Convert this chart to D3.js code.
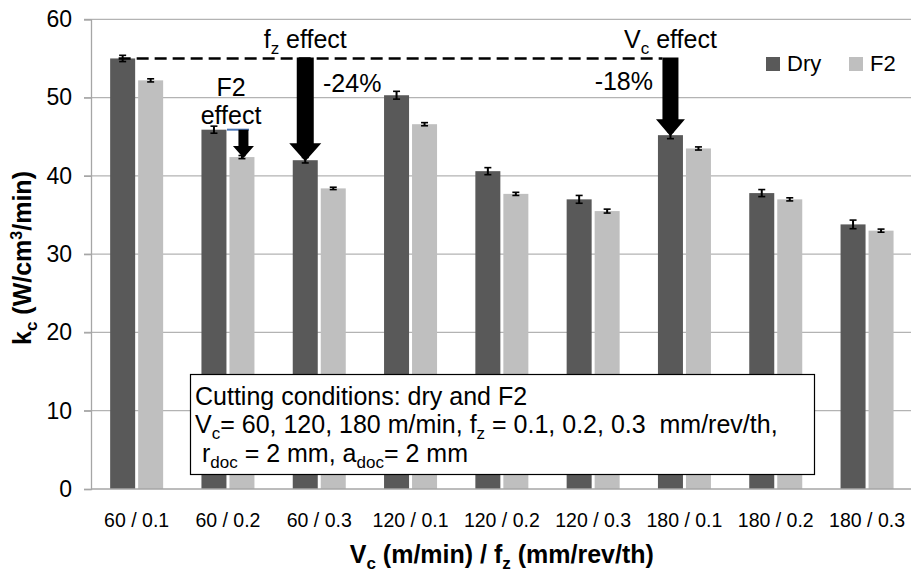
<!DOCTYPE html>
<html>
<head>
<meta charset="utf-8">
<script src="https://cdn.jsdelivr.net/npm/d3@7"></script>
<style>
  body { margin: 0; background: #fff; }
  svg { font-family: "Liberation Sans", Arial, sans-serif; display: block; }
</style>
</head>
<body>
<div id="chart"></div>
<script>
// data
const categories = ['60 / 0.1', '60 / 0.2', '60 / 0.3', '120 / 0.1', '120 / 0.2', '120 / 0.3', '180 / 0.1', '180 / 0.2', '180 / 0.3'];
const seriesNames = ['Dry', 'F2'];
const dryValues = [55.0, 45.9, 42.0, 50.3, 40.6, 37.0, 45.2, 37.8, 33.8];
const f2Values = [52.2, 42.4, 38.4, 46.6, 37.7, 35.5, 43.5, 37.0, 33.0];
const dryErrors = [0.4, 0.45, 0.35, 0.5, 0.45, 0.5, 0.45, 0.45, 0.55];
const f2Errors = [0.2, 0.2, 0.15, 0.2, 0.2, 0.25, 0.2, 0.2, 0.2];
const yTicks = [0, 10, 20, 30, 40, 50, 60];
const colors = { Dry: '#595959', F2: '#bfbfbf' };

const width = 911, height = 574;
const margin = { left: 91, top: 19.3, bottom: 85 };
const plotRight = 912.7;

let svg = d3.select('#chart').append('svg')
    .attr('width', width)
    .attr('height', height);

let x0 = d3.scaleBand()
    .domain(categories)
    .range([margin.left, plotRight]);

let x1 = d3.scaleBand()
    .domain(seriesNames)
    .range([19.15, 72.15])
    .paddingInner(0.107);

let y = d3.scaleLinear()
    .domain([0, 60])
    .range([height - margin.bottom, margin.top]);

// gridlines
svg.append('g')
    .selectAll('line')
    .data(yTicks.filter((d) => d > 0))
    .enter()
    .append('line')
    .attr('x1', margin.left - 7)
    .attr('x2', width)
    .attr('y1', (d) => y(d))
    .attr('y2', (d) => y(d))
    .attr('stroke', '#b3b3b3')
    .attr('stroke-width', 1.3);

// y axis
let yAxis = svg.append('g')
    .attr('transform', `translate(${margin.left},0)`)
    .call(d3.axisLeft(y).tickValues(yTicks).tickSize(7).tickPadding(12));
yAxis.select('.domain').attr('stroke', '#a6a6a6').attr('stroke-width', 1.3);
yAxis.selectAll('.tick line').attr('stroke', '#a6a6a6').attr('stroke-width', 1.3);
yAxis.selectAll('.tick text')
    .attr('font-size', 23)
    .attr('fill', '#000')
    .attr('font-family', '"Liberation Sans", Arial, sans-serif');

// bars
let rows = categories.map((c, i) => ({
  cat: c,
  items: [
    { key: 'Dry', value: dryValues[i], err: dryErrors[i] },
    { key: 'F2', value: f2Values[i], err: f2Errors[i] }
  ]
}));

let group = svg.append('g')
    .selectAll('.grp')
    .data(rows)
    .enter()
    .append('g')
    .attr('class', 'grp')
    .attr('transform', (d) => `translate(${x0(d.cat)},0)`);

group.selectAll('rect')
    .data((d) => d.items)
    .enter()
    .append('rect')
    .attr('x', (d) => x1(d.key))
    .attr('y', (d) => y(d.value))
    .attr('width', x1.bandwidth())
    .attr('height', (d) => y(0) - y(d.value))
    .attr('fill', (d) => colors[d.key]);

// x axis line (zero line)
svg.append('line')
    .attr('x1', margin.left)
    .attr('x2', width)
    .attr('y1', y(0))
    .attr('y2', y(0))
    .attr('stroke', '#a6a6a6')
    .attr('stroke-width', 1.3);

// error bars
let eb = group.selectAll('.err')
    .data((d) => d.items)
    .enter()
    .append('g')
    .attr('class', 'err')
    .attr('stroke', '#000');
eb.append('line')
    .attr('x1', (d) => x1(d.key) + x1.bandwidth() / 2)
    .attr('x2', (d) => x1(d.key) + x1.bandwidth() / 2)
    .attr('y1', (d) => y(d.value - d.err))
    .attr('y2', (d) => y(d.value + d.err))
    .attr('stroke-width', 2);
eb.selectAll('.cap')
    .data((d) => [
      { key: d.key, v: d.value - d.err },
      { key: d.key, v: d.value + d.err }
    ])
    .enter()
    .append('line')
    .attr('x1', (d) => x1(d.key) + x1.bandwidth() / 2 - 3.5)
    .attr('x2', (d) => x1(d.key) + x1.bandwidth() / 2 + 3.5)
    .attr('y1', (d) => y(d.v))
    .attr('y2', (d) => y(d.v))
    .attr('stroke-width', 1.6);

// x tick labels
svg.append('g')
    .selectAll('text')
    .data(categories)
    .enter()
    .append('text')
    .attr('x', (d) => x0(d) + x0.bandwidth() / 2)
    .attr('y', 527)
    .attr('text-anchor', 'middle')
    .attr('font-size', 19.5)
    .text((d) => d);

// text with subscripts: parts = [[text, isSub], ...]
function subText(g, x, yPos, parts, size, anchor, weight) {
  let t = g.append('text')
      .attr('x', x)
      .attr('y', yPos)
      .attr('font-size', size)
      .attr('text-anchor', anchor || 'start')
      .attr('font-weight', weight || 'normal')
      .style('white-space', 'pre');
  let prevSub = false;
  parts.forEach(([s, sub]) => {
    let dy = 0;
    if (sub && !prevSub) dy = size * 0.25;
    if (!sub && prevSub) dy = -size * 0.25;
    t.append('tspan')
        .attr('font-size', sub ? size * 0.68 : size)
        .attr('dy', dy)
        .text(s);
    prevSub = sub;
  });
  return t;
}

// axis titles
subText(svg, (margin.left + plotRight) / 2, 563,
    [['V', false], ['c', true], [' (m/min) / f', false], ['z', true], [' (mm/rev/th)', false]],
    25, 'middle', 'bold');

let yt = subText(svg, 0, 0,
    [['k', false], ['c', true], [' (W/cm', false]], 25, 'middle', 'bold');
yt.append('tspan').attr('font-size', 16).attr('dy', -9).text('3');
yt.append('tspan').attr('font-size', 25).attr('dy', 9).text('/min)');
yt.attr('transform', 'translate(31,258) rotate(-90)');

// legend
let leg = svg.append('g');
let legX = [766, 849];
seriesNames.forEach((s, i) => {
  leg.append('rect')
      .attr('x', legX[i])
      .attr('y', 57)
      .attr('width', 14)
      .attr('height', 14)
      .attr('fill', colors[s]);
  leg.append('text')
      .attr('x', legX[i] + 21)
      .attr('y', 71)
      .attr('font-size', 22)
      .text(s);
});

// annotations
function arrow(g, cx, yTop, yTip, shaft, head, headLen) {
  let p = d3.path();
  p.moveTo(cx - shaft / 2, yTop);
  p.lineTo(cx + shaft / 2, yTop);
  p.lineTo(cx + shaft / 2, yTip - headLen);
  p.lineTo(cx + head / 2, yTip - headLen);
  p.lineTo(cx, yTip);
  p.lineTo(cx - head / 2, yTip - headLen);
  p.lineTo(cx - shaft / 2, yTip - headLen);
  p.closePath();
  g.append('path').attr('d', p.toString()).attr('fill', '#000');
}

let ann = svg.append('g');
let barCenter = (i, key) => x0(categories[i]) + x1(key) + x1.bandwidth() / 2;

// dashed reference line at Dry 60/0.1 level
ann.append('line')
    .attr('x1', barCenter(0, 'Dry') - 4)
    .attr('x2', barCenter(6, 'Dry') - 8)
    .attr('y1', y(dryValues[0]))
    .attr('y2', y(dryValues[0]))
    .attr('stroke', '#000')
    .attr('stroke-width', 2.6)
    .attr('stroke-dasharray', '12,6');

// fz effect
arrow(ann, barCenter(2, 'Dry'), y(dryValues[0]) - 1, y(dryValues[2]) + 1, 17, 32, 18);
subText(ann, barCenter(2, 'Dry'), 48, [['f', false], ['z', true], [' effect', false]], 25, 'middle');
ann.append('text').attr('x', 323).attr('y', 92).attr('font-size', 25).text('-24%');

// Vc effect
arrow(ann, barCenter(6, 'Dry'), y(dryValues[0]) - 1, y(dryValues[6]) + 1, 16, 29, 17);
subText(ann, barCenter(6, 'Dry'), 48, [['V', false], ['c', true], [' effect', false]], 25, 'middle');
ann.append('text').attr('x', 653).attr('y', 90).attr('font-size', 25).attr('text-anchor', 'end').text('-18%');

// F2 effect
ann.append('line')
    .attr('x1', barCenter(1, 'Dry') + 13)
    .attr('x2', barCenter(1, 'F2') + 7)
    .attr('y1', y(dryValues[1]))
    .attr('y2', y(dryValues[1]))
    .attr('stroke', '#4a76b8')
    .attr('stroke-width', 2);
arrow(ann, barCenter(1, 'F2') + 1.5, y(dryValues[1]), y(f2Values[1]) + 1, 10, 21, 12);
ann.append('text').attr('x', 231).attr('y', 96).attr('font-size', 25).attr('text-anchor', 'middle').text('F2');
ann.append('text').attr('x', 231).attr('y', 124).attr('font-size', 25).attr('text-anchor', 'middle').text('effect');

// conditions box
let box = svg.append('g');
box.append('rect')
    .attr('x', 190.5)
    .attr('y', 374.5)
    .attr('width', 624)
    .attr('height', 100)
    .attr('fill', '#fff')
    .attr('stroke', '#000')
    .attr('stroke-width', 1.2);
subText(box, 195, 405, [['Cutting conditions: dry and F2', false]], 25);
subText(box, 195, 433, [['V', false], ['c', true], ['= 60, 120, 180 m/min, f', false], ['z', true], [' = 0.1, 0.2, 0.3  mm/rev/th,', false]], 25);
subText(box, 195, 462, [[' r', false], ['doc', true], [' = 2 mm, a', false], ['doc', true], ['= 2 mm', false]], 25);
</script>
</body>
</html>
